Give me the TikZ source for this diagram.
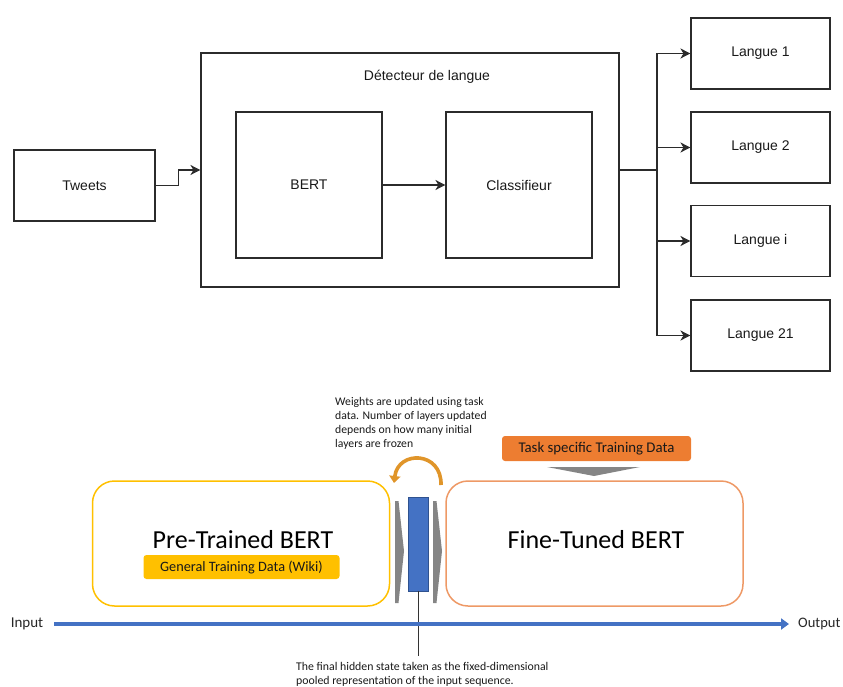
\documentclass[tikz,border=0pt]{standalone}
\usepackage{fontspec}
\setmainfont{Liberation Sans}
\newfontfamily\calibri{Carlito}
\usetikzlibrary{arrows.meta,calc}

\definecolor{linegray}{HTML}{2B2B2B}
\definecolor{gold}{HTML}{FFC000}
\definecolor{softorange}{HTML}{EE9966}
\definecolor{taskorange}{HTML}{ED7D31}
\definecolor{curveorange}{HTML}{E0952A}
\definecolor{bertblue}{HTML}{4472C4}
\definecolor{bertblueedge}{HTML}{2F528F}
\definecolor{chevgray}{HTML}{858585}

\begin{document}
\begin{tikzpicture}[x=1pt,y=-1pt,
  flowbox/.style={draw=linegray, line width=1.1pt, inner sep=0pt,
    font=\fontsize{14}{16}\selectfont, text=black!90},
  flowlabel/.style={inner sep=0pt, font=\fontsize{14}{16}\selectfont, text=black!90},
  flowarrow/.style={draw=linegray, line width=1.1pt,
    -{Stealth[length=10pt,width=10pt,inset=3pt]}},
  flowline/.style={draw=linegray, line width=1.1pt},
  stagebox/.style={line width=1.5pt, rounded corners=22pt, inner sep=0pt,
    minimum width=297pt, minimum height=125pt},
  stagetitle/.style={inner sep=0pt, font=\calibri\fontsize{26}{30}\selectfont, text=black},
  datatag/.style={inner sep=0pt, rounded corners=3pt, text=black!90},
  note/.style={inner sep=0pt, align=left, text=black!90,
    font=\calibri\fontsize{11.7}{14}\selectfont},
  axislabel/.style={inner sep=0pt, text=black!85, font=\calibri\fontsize{15}{18}\selectfont},
  chevron/.style={fill=chevgray, draw=none},
]
\useasboundingbox (0,0) rectangle (843,687);

% ---------------- language detection pipeline ----------------
\node[flowbox, minimum width=141pt, minimum height=71pt] (tweets) at (84.5,185.5) {Tweets};
\node[flowbox, minimum width=418pt, minimum height=234pt] (det) at (410,170) {};
\node[flowlabel] (dettitle) at (427,77) {Détecteur de langue};
\node[flowbox, minimum width=146pt, minimum height=146pt] (bert) at (309,185) {BERT};
\node[flowbox, minimum width=146pt, minimum height=146pt] (clf) at (519,185) {Classifieur};

\node[flowbox, minimum width=139pt, minimum height=71pt] (l1)  at (760.5,53.5)  {Langue 1};
\node[flowbox, minimum width=139pt, minimum height=71pt] (l2)  at (760.5,147.5) {Langue 2};
\node[flowbox, minimum width=139pt, minimum height=71pt] (li)  at (760.5,241)   {Langue i};
\node[flowbox, minimum width=139pt, minimum height=71pt] (l21) at (760.5,335.5) {Langue 21};

\draw[flowarrow] (tweets.east) -- ++(23,0) |- (det.west);
\draw[flowarrow] (bert.east) -- (clf.west);

\coordinate (fork) at (657,170);
\draw[flowline] (det.east) -- (fork);
\foreach \target in {l1,l2,li,l21}
  \draw[flowarrow] (fork) |- (\target.west);

% ---------------- BERT fine-tuning scheme ----------------
\node[stagebox, draw=gold] (pre) at (241,543.5) {};
\node[stagebox, draw=softorange] (fine) at (594.5,543.5) {};
\node[stagetitle] (pretitle) at (243,540) {Pre-Trained BERT};
\node[stagetitle] (finetitle) at (596,540) {Fine-Tuned BERT};

\node[datatag, fill=gold, minimum width=196pt, minimum height=24pt,
  font=\calibri\fontsize{14.3}{16}\selectfont] (general) at (241.5,567) {General Training Data (Wiki)};
\node[datatag, fill=taskorange, minimum width=189pt, minimum height=25pt,
  font=\calibri\fontsize{14.8}{16}\selectfont] (task) at (596.5,448.5) {Task specific Training Data};

% grey wedge under the task data tag
\fill[chevgray] (547,467) -- (640,467) -- (594,476) -- cycle;

% chevrons on both sides of the pooled output
\fill[chevron] (395,501) -- (398.5,501) -- (404,551) -- (398.5,603) -- (395,603) -- cycle;
\fill[chevron] (433,501) -- (436.5,501) -- (442,551) -- (436.5,603) -- (433,603) -- cycle;

% pooled hidden state
\node[fill=bertblue, draw=bertblueedge, line width=0.8pt, inner sep=0pt,
  minimum width=20pt, minimum height=94pt] (pooled) at (418,544) {};

% weight update loop
\coordinate (loopstart) at (441,485);
\coordinate (loopend) at (394,483);
\draw[curveorange, line width=3.6pt, -{Triangle[length=7pt,width=11pt]}]
  (loopstart) .. controls (442,451) and (398,450) .. (loopend);

\node[note, anchor=north west] (weights) at (335,397)
  {Weights are updated using task\\data. Number of layers updated\\depends on how many initial\\layers are frozen};

% leader line from the pooled state to its caption
\coordinate (leaderend) at (418,656);
\draw[black!80, line width=0.8pt] (pooled.south) -- (leaderend);

% input/output axis
\node[axislabel] (input) at (27,624) {Input};
\node[axislabel, anchor=west, font=\calibri\fontsize{14.5}{18}\selectfont] (output) at (798,624) {Output};
\coordinate (axisstart) at (54,624);
\coordinate (axisend) at (789,624);
\draw[bertblue, line width=4pt, -{Triangle[length=8pt,width=11pt]}] (axisstart) -- (axisend);

\node[note, anchor=north west, font=\calibri\fontsize{11.8}{14}\selectfont] (caption) at (296,662)
  {The final hidden state taken as the fixed-dimensional\\pooled representation of the input sequence.};
\end{tikzpicture}
\end{document}
